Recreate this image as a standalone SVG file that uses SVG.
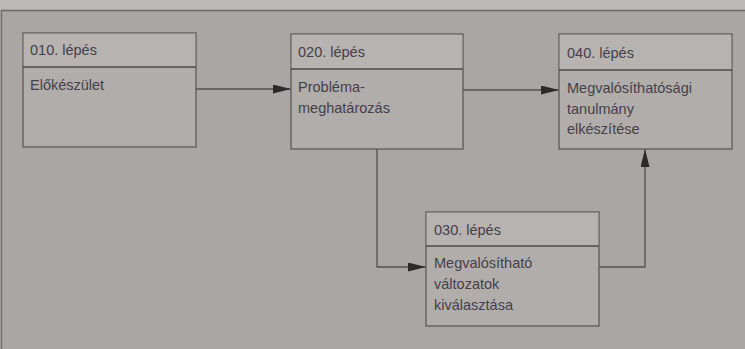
<svg xmlns="http://www.w3.org/2000/svg" width="745" height="349" viewBox="0 0 745 349">
  <defs>
    <style>
      .bg { fill: #aaa6a3; }
      .top { fill: #bdb9b6; }
      .frame { stroke: #6e6a68; stroke-width: 1.3; fill: none; }
      .box { fill: #b1adaa; stroke: #5e5a59; stroke-width: 1.3; }
      .head { fill: #b7b3b0; }
      .div { stroke: #4e4a4a; stroke-width: 1.6; }
      .t { font-family: "Liberation Sans", Arial, sans-serif; font-size: 14.5px; fill: #45404b; }
      .conn { stroke: #555152; stroke-width: 1.3; fill: none; marker-end: url(#arr); }
    </style>
    <marker id="arr" viewBox="0 0 18 9" refX="18" refY="4.5" markerWidth="18" markerHeight="9" markerUnits="userSpaceOnUse" orient="auto">
      <path d="M0,0 L18,4.5 L0,9 Z" fill="#2e2a2c"/>
    </marker>
  </defs>
  <rect class="bg" x="0" y="0" width="745" height="349"/>
  <rect class="top" x="0" y="0" width="745" height="10"/>
  <path class="frame" d="M1.5,349 L1.5,10.5 L745,10.5"/>

  <g id="connectors">
    <path class="conn" d="M196,89 L291,89"/>
    <path class="conn" d="M463,90 L559,90"/>
    <path class="conn" d="M377,149 L377,267 L426,267"/>
    <path class="conn" d="M599,267 L645,267 L645,149"/>
  </g>

  <g id="n010">
    <rect class="box" x="23" y="33" width="173" height="114"/>
    <rect class="head" x="23.7" y="33.7" width="171.6" height="33"/>
    <line class="div" x1="23" y1="67" x2="196" y2="67"/>
    <text class="t" x="30" y="55">010. lépés</text>
    <text class="t" x="30" y="90">Előkészület</text>
  </g>

  <g id="n020">
    <rect class="box" x="291" y="34" width="172" height="115"/>
    <rect class="head" x="291.7" y="34.7" width="170.6" height="34"/>
    <line class="div" x1="291" y1="69" x2="463" y2="69"/>
    <text class="t" x="298" y="57">020. lépés</text>
    <text class="t" x="298" y="92">Probléma-</text>
    <text class="t" x="298" y="112.5">meghatározás</text>
  </g>

  <g id="n040">
    <rect class="box" x="559" y="34" width="173" height="115"/>
    <rect class="head" x="559.7" y="34.7" width="171.6" height="35"/>
    <line class="div" x1="559" y1="70" x2="732" y2="70"/>
    <text class="t" x="567" y="58">040. lépés</text>
    <text class="t" x="567" y="93">Megvalósíthatósági</text>
    <text class="t" x="567" y="113.5">tanulmány</text>
    <text class="t" x="567" y="134">elkészítése</text>
  </g>

  <g id="n030">
    <rect class="box" x="426" y="212" width="173" height="114"/>
    <rect class="head" x="426.7" y="212.7" width="171.6" height="33"/>
    <line class="div" x1="426" y1="246" x2="599" y2="246"/>
    <text class="t" x="434" y="235">030. lépés</text>
    <text class="t" x="434" y="268">Megvalósítható</text>
    <text class="t" x="434" y="289">változatok</text>
    <text class="t" x="434" y="310">kiválasztása</text>
  </g>
</svg>
